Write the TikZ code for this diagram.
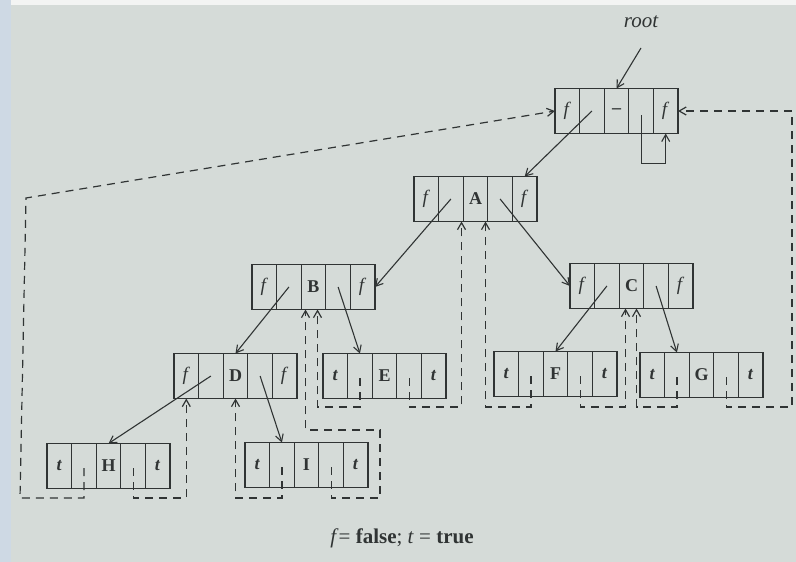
\documentclass[tikz,border=0pt]{standalone}
\usepackage{fontspec}
\setmainfont{Liberation Serif}
\usetikzlibrary{positioning,calc,arrows.meta}

\definecolor{paper}{RGB}{213,219,216}
\definecolor{margin}{RGB}{206,217,228}
\definecolor{ink}{RGB}{48,52,52}

\tikzset{
  cell/.style={draw=ink, line width=1.2pt, minimum width=24.6pt, minimum height=45pt,
    inner sep=0pt, outer sep=0pt, text=ink, font=\fontsize{18}{20}\selectfont},
  ptr/.style={draw=ink, line width=1.1pt, -{Straight Barb[length=7pt,width=8pt]}},
  thread/.style={draw=ink, line width=1.2pt, dash pattern=on 8pt off 6pt,
    -{Straight Barb[length=7pt,width=8pt]}},
  label/.style={text=ink, inner sep=1pt},
}

% a threaded-tree record: left flag | left link | data | right link | right flag
\newcommand\record[6]{%
  \node[cell] (#1-1) at (#2+12.3,#3) {#4};
  \node[cell,right=0pt of #1-1] (#1-2) {};
  \node[cell,right=0pt of #1-2] (#1-3) {\bfseries #5};
  \node[cell,right=0pt of #1-3] (#1-4) {};
  \node[cell,right=0pt of #1-4] (#1-5) {#6};
}
\newcommand\F{{\fontsize{19}{20}\selectfont\textit{f}}}
\newcommand\T{\textbf{\textit{t}}}

\begin{document}
\begin{tikzpicture}[x=1pt,y=-1pt]
  \fill[paper] (0,0) rectangle (796,562);
  \fill[margin] (0,0) rectangle (11,562);
  \fill[white!70!paper] (11,0) rectangle (796,5);
  \useasboundingbox (0,0) rectangle (796,562);

  % records
  \record{root}{555}{111}{\F}{--}{\F}
  \record{A}{414}{199}{\F}{A}{\F}
  \record{B}{252}{287}{\F}{B}{\F}
  \record{C}{570}{286}{\F}{C}{\F}
  \record{D}{174}{376}{\F}{D}{\F}
  \record{E}{323}{376}{\T}{E}{\T}
  \record{F}{494}{374}{\T}{F}{\T}
  \record{G}{640}{375}{\T}{G}{\T}
  \record{H}{47}{466}{\T}{H}{\T}
  \record{I}{245}{465}{\T}{I}{\T}

  % head pointer
  \node[label, font=\fontsize{21}{24}\selectfont\itshape] (rootlbl) at (641,22) {root};
  \coordinate (rootptr) at (641,48);
  \draw[ptr] (rootptr) -- (root-3.north);

  % child links
  \draw[ptr] (root-2.center) -- (A-5.north);
  \draw[ptr] ($(root-4.center)+(0,4)$) |- ($(root-5.south)+(0,30)$) -- (root-5.south);
  \draw[ptr] (A-2.center) -- (B-5.east);
  \draw[ptr] (A-4.center) -- (C-1.west);
  \draw[ptr] (B-2.center) -- (D-3.north);
  \draw[ptr] (B-4.center) -- (E-2.north);
  \draw[ptr] (C-2.center) -- (F-3.north);
  \draw[ptr] (C-4.center) -- (G-2.north);
  \draw[ptr] (D-2.center) -- (H-3.north);
  \draw[ptr] (D-4.center) -- (I-2.north);

  % threads
  \coordinate (lowleft) at (20,498);
  \coordinate (highleft) at (26,198);
  \coordinate (iturn) at (380,430);
  \coordinate (farright) at (792,407);

  \draw[thread] ($(H-2.center)+(0,2)$) -- (H-2.center |- 0,498) -- (lowleft) -- (highleft) -- (root-1.west);
  \draw[thread] ($(H-4.center)+(0,2)$) -- (H-4.center |- 0,498) -| (D-1.south);
  \draw[thread] ($(I-2.center)+(0,2)$) -- (I-2.center |- 0,498) -| (D-3.south);
  \draw[thread] ($(I-4.center)+(0,2)$) -- (I-4.center |- 0,498) -| (iturn) -| ($(B-3.south)+(-8,0)$);
  \draw[thread] ($(E-2.center)+(0,2)$) -- (E-2.center |- 0,407) -| ($(B-3.south)+(4,0)$);
  \draw[thread] ($(E-4.center)+(0,2)$) -- (E-4.center |- 0,407) -| ($(A-3.south)+(-14,0)$);
  \draw[thread] ($(F-2.center)+(0,2)$) -- (F-2.center |- 0,407) -| ($(A-3.south)+(10,0)$);
  \draw[thread] ($(F-4.center)+(0,2)$) -- (F-4.center |- 0,407) -| ($(C-3.south)+(-6,0)$);
  \draw[thread] ($(G-2.center)+(0,2)$) -- (G-2.center |- 0,407) -| ($(C-3.south)+(5,0)$);
  \draw[thread] ($(G-4.center)+(0,2)$) -- (G-4.center |- 0,407) -- (farright) |- (root-5.east);

  % legend
  \node[label, font=\fontsize{21}{24}\selectfont] (key) at (402,538)
    {\textit{f}= \textbf{false}; \textit{t} = \textbf{true}};
\end{tikzpicture}
\end{document}
